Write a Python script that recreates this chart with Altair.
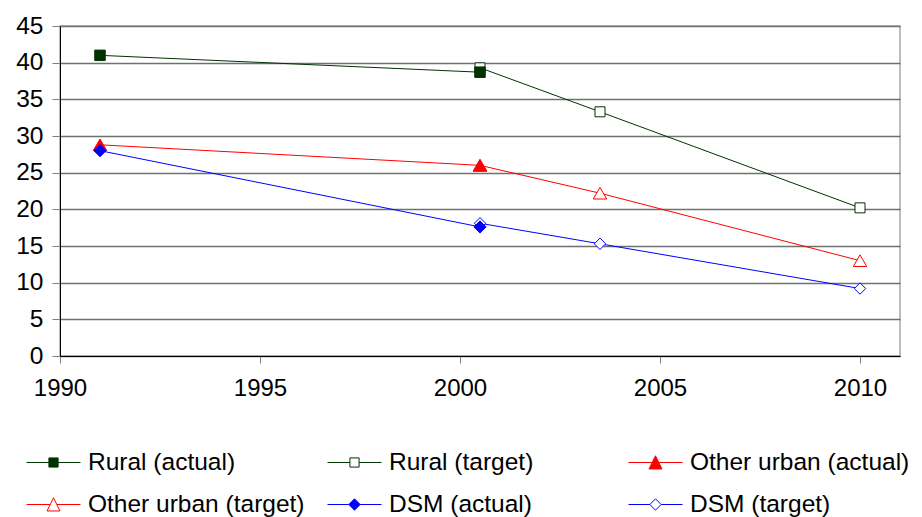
import altair as alt
import pandas as pd

# ---- data ----
series = ["Rural (actual)", "Rural (target)", "Other urban (actual)",
          "Other urban (target)", "DSM (actual)", "DSM (target)"]
line_colors = ["#003300", "#003300", "#FF0000", "#FF0000", "#0000FF", "#0000FF"]
fill_colors = ["#003300", "#FFFFFF", "#FF0000", "#FFFFFF", "#0000FF", "#FFFFFF"]
marker_shapes = ["square", "square", "triangle-up", "triangle-up", "diamond", "diamond"]
marker_sizes = [110, 100, 180, 180, 150, 130]

years_actual = [1991, 2000.5]
years_target = [2000.5, 2003.5, 2010]

rural_actual = [41.0, 38.7]
rural_target = [39.3, 33.3, 20.2]
urban_actual = [28.8, 26.0]
urban_target = [26.0, 22.2, 13.0]
dsm_actual = [28.0, 17.6]
dsm_target = [18.1, 15.3, 9.2]

y_ticks = [0, 5, 10, 15, 20, 25, 30, 35, 40, 45]
x_ticks = [1990, 1995, 2000, 2005, 2010]

# legend symbols: line with a marker in the middle (custom SVG paths)
legend_paths = [
    "M-1,0H-0.17M0.17,0H1M-0.17,-0.17H0.17V0.17H-0.17Z",
    "M-1,0H-0.17M0.17,0H1M-0.17,-0.17H0.17V0.17H-0.17Z",
    "M-1,0H-0.13M0.13,0H1M0,-0.25L0.24,0.24H-0.24Z",
    "M-1,0H-0.13M0.13,0H1M0,-0.25L0.24,0.24H-0.24Z",
    "M-1,0H-0.21M0.21,0H1M-0.21,0L0,-0.21L0.21,0L0,0.21Z",
    "M-1,0H-0.21M0.21,0H1M-0.21,0L0,-0.21L0.21,0L0,0.21Z",
]

# ---- build the table (targets first so actual markers sit on top) ----
values_by_series = {
    "Rural (actual)": (years_actual, rural_actual),
    "Rural (target)": (years_target, rural_target),
    "Other urban (actual)": (years_actual, urban_actual),
    "Other urban (target)": (years_target, urban_target),
    "DSM (actual)": (years_actual, dsm_actual),
    "DSM (target)": (years_target, dsm_target),
}
draw_order = ["Rural (target)", "Other urban (target)", "DSM (target)",
              "Rural (actual)", "Other urban (actual)", "DSM (actual)"]
rows = []
for s in draw_order:
    i = series.index(s)
    xs, ys = values_by_series[s]
    for x, y in zip(xs, ys):
        rows.append({"series": s, "year": x, "value": y,
                     "lc": line_colors[i], "fc": fill_colors[i],
                     "shp": marker_shapes[i], "sz": marker_sizes[i]})
df = pd.DataFrame(rows)

FONT = "Liberation Sans"

x_enc = alt.X("year:Q", scale=alt.Scale(domain=[1990, 2011], nice=False, zero=False),
              axis=alt.Axis(values=x_ticks, format="d", title=None, grid=False,
                            tickSize=7, tickColor="#808080", domainColor="#000000",
                            labelFontSize=24, labelFont=FONT, labelColor="#000000",
                            labelPadding=13, labelFlush=False, labelOverlap=False))
y_enc = alt.Y("value:Q", scale=alt.Scale(domain=[0, 45], nice=False),
              axis=alt.Axis(values=y_ticks, title=None, grid=True, gridColor="#707070",
                            gridWidth=1.4, tickSize=8, tickColor="#808080",
                            domainColor="#000000", labelFontSize=24.5, labelFont=FONT,
                            labelColor="#000000", labelPadding=9, labelOverlap=False))

base = alt.Chart(df)

lines = base.mark_line(strokeWidth=1).encode(
    x=x_enc, y=y_enc,
    stroke=alt.Stroke("lc:N", scale=None),
    detail="series:N",
)

points = base.mark_point(filled=True, opacity=1, strokeWidth=1).encode(
    x=x_enc, y=y_enc,
    shape=alt.Shape("shp:N", scale=None),
    fill=alt.Fill("fc:N", scale=None),
    stroke=alt.Stroke("lc:N", scale=None),
    size=alt.Size("sz:Q", scale=None),
)

legend = alt.Legend(title=None, orient="none", legendX=-34, legendY=409,
                    columns=3, direction="horizontal", gridAlign="all",
                    columnPadding=17, rowPadding=3, symbolSize=2916,
                    symbolStrokeWidth=1, labelFontSize=24.5, labelFont=FONT,
                    labelColor="#000000", labelOffset=7, labelLimit=400)

legend_layer = base.mark_point(filled=True, opacity=1).encode(
    x=x_enc, y=y_enc,
    shape=alt.Shape("series:N", scale=alt.Scale(domain=series, range=legend_paths), legend=legend),
    fill=alt.Fill("series:N", scale=alt.Scale(domain=series, range=fill_colors), legend=legend),
    stroke=alt.Stroke("series:N", scale=alt.Scale(domain=series, range=line_colors), legend=legend),
).transform_filter("false")

chart = alt.layer(lines, points, legend_layer).properties(
    width=840, height=330,
    autosize=alt.AutoSizeParams(type="none"),
    padding={"left": 60, "top": 26, "right": 22, "bottom": 161},
    background="#FFFFFF",
).configure_view(stroke="#A8A8A8", strokeWidth=1.5)

chart.save("out.html", embed_options={"renderer": "svg", "actions": False})
